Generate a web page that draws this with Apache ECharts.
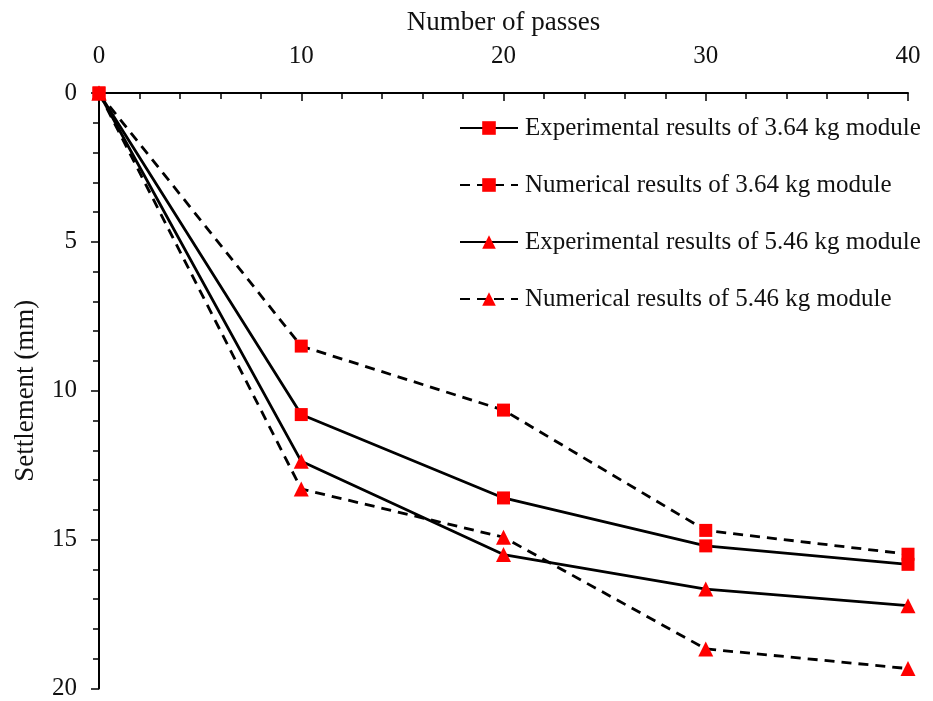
<!DOCTYPE html>
<html>
<head>
<meta charset="utf-8">
<script src="https://cdn.jsdelivr.net/npm/echarts@6/dist/echarts.min.js"></script>
<style>html,body{margin:0;padding:0;background:#fff}#c{width:933px;height:701px}</style>
</head>
<body>
<div id="c"></div>
<script>
const passes = [0, 10, 20, 30, 40];
const exp364 = [0, 10.8, 13.6, 15.21, 15.83];
const num364 = [0, 8.5, 10.65, 14.69, 15.49];
const exp546 = [0, 12.37, 15.5, 16.66, 17.22];
const num546 = [0, 13.3, 14.92, 18.67, 19.33];
const seriesNames = [
  'Experimental results of 3.64 kg module',
  'Numerical results of 3.64 kg module',
  'Experimental results of 5.46 kg module',
  'Numerical results of 5.46 kg module'
];
const FONT = '"Liberation Serif", "Times New Roman", serif';
function pairs(vals){ return passes.map((p,i)=>[p, vals[i]]); }
function mk(name, vals, dashed, symbol, size){
  return {
    name: name, type: 'line', data: pairs(vals),
    symbol: symbol, symbolSize: size,
    itemStyle: {color: '#ff0000'},
    lineStyle: {color: '#000', width: 2.8, type: dashed ? [10, 7] : 'solid'},
    z: 3
  };
}
const chart = echarts.init(document.getElementById('c'));
chart.setOption({
  animation: false,
  backgroundColor: '#fff',
  textStyle: {fontFamily: FONT},
  grid: {left: 99, right: 25, top: 93, bottom: 9, containLabel: false},
  legend: {
    orient: 'vertical', left: 454, top: 109,
    itemWidth: 58, itemHeight: 17, itemGap: 29,
    textStyle: {fontFamily: FONT, fontSize: 25, lineHeight: 28, color: '#111', padding: [0,0,0,2]},
    data: seriesNames
  },
  xAxis: {
    type: 'value', position: 'top', min: 0, max: 40, interval: 10,
    name: 'Number of passes', nameLocation: 'middle', nameGap: 57,
    nameTextStyle: {fontFamily: FONT, fontSize: 27, color: '#111'},
    axisLine: {show: true, lineStyle: {color: '#000', width: 2}},
    axisTick: {show: true, inside: true, length: 8, lineStyle: {color: '#000', width: 1.5}},
    minorTick: {show: true, splitNumber: 5, length: 6, lineStyle: {color: '#000', width: 1.5}},
    axisLabel: {fontFamily: FONT, fontSize: 25, color: '#111', margin: 24},
    splitLine: {show: false}
  },
  yAxis: {
    type: 'value', inverse: true, min: 0, max: 20, interval: 5,
    name: 'Settlement (mm)', nameLocation: 'middle', nameGap: 60,
    nameTextStyle: {fontFamily: FONT, fontSize: 27, color: '#111'},
    axisLine: {show: true, lineStyle: {color: '#000', width: 2}},
    axisTick: {show: true, inside: false, length: 8, lineStyle: {color: '#000', width: 1.5}},
    minorTick: {show: true, splitNumber: 5, length: 6, lineStyle: {color: '#000', width: 1.5}},
    axisLabel: {fontFamily: FONT, fontSize: 25, color: '#111', margin: 22},
    splitLine: {show: false}
  },
  series: [
    mk(seriesNames[0], exp364, false, 'rect', 13),
    mk(seriesNames[1], num364, true, 'rect', 13),
    mk(seriesNames[2], exp546, false, 'triangle', 15),
    mk(seriesNames[3], num546, true, 'triangle', 15)
  ]
});
</script>
</body>
</html>
